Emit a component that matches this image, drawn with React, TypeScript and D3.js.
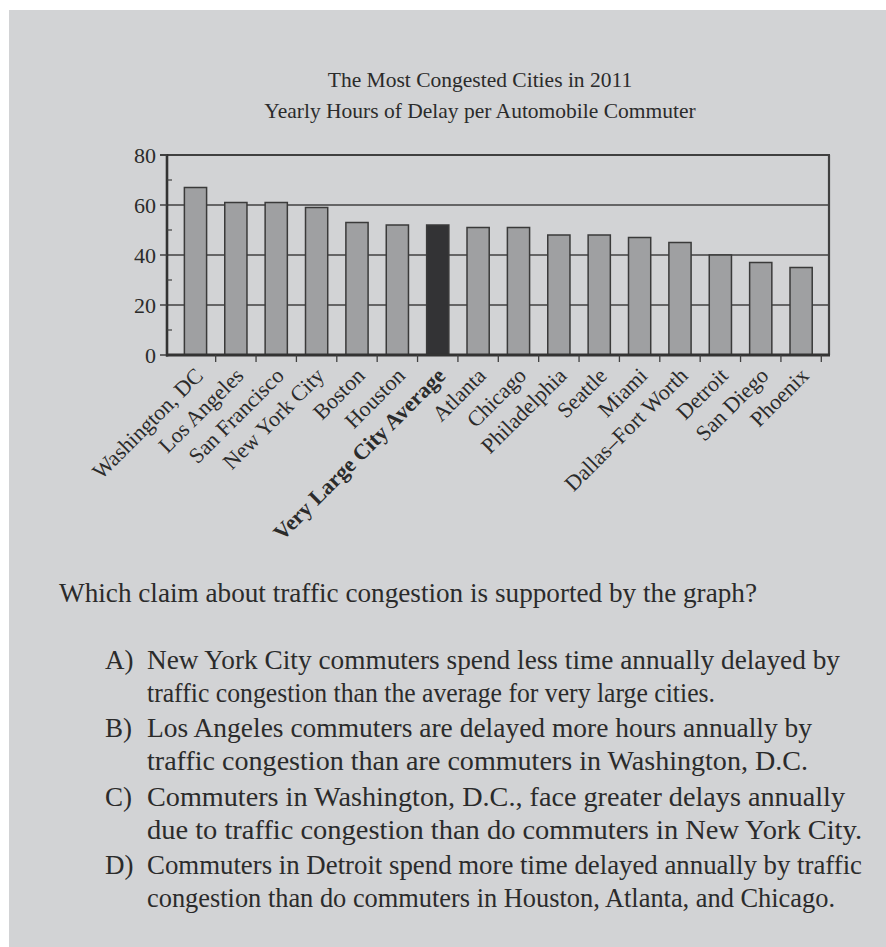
import React from "react";
import * as d3 from "d3";

const categories = [
  "Washington, DC", "Los Angeles", "San Francisco", "New York City", "Boston", "Houston",
  "Very Large City Average", "Atlanta", "Chicago", "Philadelphia", "Seattle", "Miami",
  "Dallas–Fort Worth", "Detroit", "San Diego", "Phoenix",
];
const values = [67, 61, 61, 59, 53, 52, 52, 51, 51, 48, 48, 47, 45, 40, 37, 35];
const highlight = "Very Large City Average";
const yTicks = [0, 20, 40, 60, 80];
const yMinorTicks = [10, 30, 50, 70];
const gridValues = [20, 40, 60];
const titleLines = ["The Most Congested Cities in 2011", "Yearly Hours of Delay per Automobile Commuter"];
const question = "Which claim about traffic congestion is supported by the graph?";
const optionLabels = ["A)", "B)", "C)", "D)"];
const optionLines = [
  ["New York City commuters spend less time annually delayed by", "traffic congestion than the average for very large cities."],
  ["Los Angeles commuters are delayed more hours annually by", "traffic congestion than are commuters in Washington, D.C."],
  ["Commuters in Washington, D.C., face greater delays annually", "due to traffic congestion than do commuters in New York City."],
  ["Commuters in Detroit spend more time delayed annually by traffic", "congestion than do commuters in Houston, Atlanta, and Chicago."],
];
const optionLineEnds = [[840, 715], [812, 808], [845, 862], [862, 835]];

const W = 886, H = 947;
const plotLeft = 167, plotRight = 829, plotTop = 155, plotBottom = 355;
const serif = "'Liberation Serif', 'Times New Roman', serif";
const ink = "#2b2b2b";

export default function App() {
  const x = d3.scaleBand<string>().domain(categories).range([175.3, 821.3]).paddingInner(0.45).paddingOuter(0.225);
  const y = d3.scaleLinear().domain([0, 80]).range([plotBottom, plotTop]);
  const step = x.step();
  const half = (step * 0.45) / 2;
  const tickXs = categories.slice(1).map((c) => (x(c) as number) - half);
  tickXs.push((x(categories[categories.length - 1]) as number) + x.bandwidth() + half);

  const qBase = 602;
  const optStarts = [669, 737.4, 805.8, 874.2];
  const lineGap = 32.7;

  return (
    <svg width={W} height={H} style={{ position: "absolute", left: 0, top: 0, background: "#fff" }} fontFamily={serif}>
      <rect x={9} y={10} width={W - 9} height={H - 10} fill="#d2d3d5" />
      {titleLines.map((t, i) => (
        <text key={t} x={480} y={87 + i * 31} textAnchor="middle" fontSize={21.5} fill={ink}>{t}</text>
      ))}
      {gridValues.map((v) => (
        <line key={v} x1={plotLeft} x2={plotRight} y1={y(v)} y2={y(v)} stroke="#404040" strokeWidth={1.4} />
      ))}
      <line x1={plotLeft - 7} x2={plotRight + 1} y1={y(80)} y2={y(80)} stroke="#404040" strokeWidth={2} />
      <line x1={plotRight} x2={plotRight} y1={y(80)} y2={plotBottom} stroke="#404040" strokeWidth={2.2} />
      {categories.map((c, i) => (
        <rect key={c} x={x(c)} y={y(values[i])} width={x.bandwidth()} height={plotBottom - y(values[i])}
          fill={c === highlight ? "#333335" : "#9fa0a2"} stroke="#3a3a3a" strokeWidth={1.5} />
      ))}
      <line x1={plotLeft} x2={plotLeft} y1={y(80) - 1} y2={plotBottom + 1.5} stroke="#333" strokeWidth={2.6} />
      {yTicks.map((v) => (
        <g key={v}>
          <line x1={plotLeft - 7} x2={plotLeft} y1={y(v)} y2={y(v)} stroke="#404040" strokeWidth={1.5} />
          <text x={156} y={y(v)} dy="0.35em" textAnchor="end" fontSize={22} fill={ink}>{v}</text>
        </g>
      ))}
      {yMinorTicks.map((v) => (
        <line key={v} x1={plotLeft} x2={plotLeft + 5} y1={y(v)} y2={y(v)} stroke="#404040" strokeWidth={1.2} />
      ))}
      <line x1={plotLeft - 1} x2={plotRight + 1} y1={plotBottom} y2={plotBottom} stroke="#333" strokeWidth={3} />
      {tickXs.map((tx, i) => (
        <line key={i} x1={tx} x2={tx} y1={plotBottom} y2={plotBottom + 7} stroke="#404040" strokeWidth={1.3} />
      ))}
      {categories.map((c) => {
        const cx = (x(c) as number) + x.bandwidth() / 2 + 9;
        const cy = 377;
        return (
          <text key={c} x={cx} y={cy} textAnchor="end" fontSize={22} fill={ink}
            fontWeight={c === highlight ? "bold" : "normal"} transform={`rotate(-45 ${cx} ${cy})`}>{c}</text>
        );
      })}
      <text x={59} y={qBase} fontSize={27} fill={ink} textLength={757 - 59} lengthAdjust="spacingAndGlyphs">{question}</text>
      {optionLabels.map((lab, i) => (
        <g key={lab}>
          <text x={105} y={optStarts[i]} fontSize={27} fill={ink}>{lab}</text>
          {optionLines[i].map((ln, j) => (
            <text key={j} x={147} y={optStarts[i] + j * lineGap} fontSize={27} fill={ink}
              textLength={optionLineEnds[i][j] - 147} lengthAdjust="spacingAndGlyphs">{ln}</text>
          ))}
        </g>
      ))}
    </svg>
  );
}
